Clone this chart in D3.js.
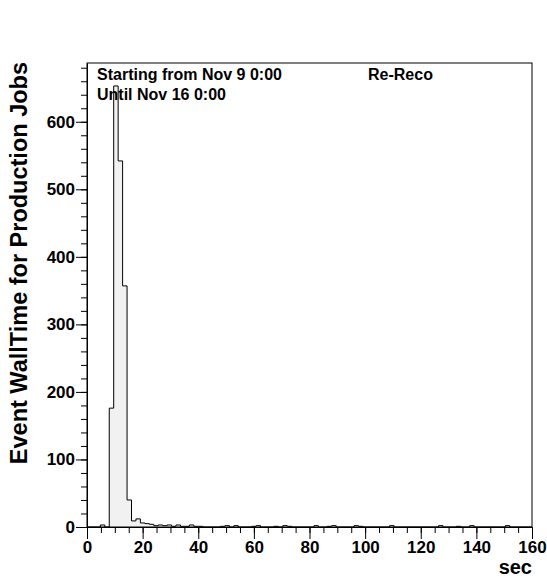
<!DOCTYPE html>
<html>
<head>
<meta charset="utf-8">
<style>
    body { margin: 0; background: #fff; }
    svg { display: block; font-family: "Liberation Sans", Arial, sans-serif; font-weight: bold; }
    .axis .domain { stroke: #000; }
    .axis line { stroke: #000; }
</style>
</head>
<body>
<svg width="547" height="579"></svg>
<script src="https://d3js.org/d3.v7.min.js"></script>
<script>
    // histogram: 100 bins from 0 to 160 sec (bin width 1.6)
    var binWidth = 1.6;
    var counts = [
        0, 0, 0, 3, 0, 176, 653, 542, 357, 40,
        9, 12, 6, 5, 4, 2, 3, 2, 3, 1,
        3, 1, 1, 3, 1, 1, 0, 0, 0, 0,
        1, 2, 0, 2, 0, 0, 0, 1, 2, 0,
        0, 0, 1, 0, 2, 1, 0, 0, 0, 0,
        0, 2, 0, 0, 1, 2, 0, 0, 0, 0,
        2, 1, 0, 0, 0, 0, 0, 0, 2, 0,
        0, 0, 0, 0, 0, 0, 0, 0, 0, 2,
        0, 0, 0, 1, 0, 0, 2, 0, 0, 0,
        0, 0, 0, 0, 2, 0, 0, 0, 0, 0
    ];
    var xMajor = [0, 20, 40, 60, 80, 100, 120, 140, 160];
    var yMajor = [0, 100, 200, 300, 400, 500, 600];

    var svg = d3.select("svg"),
        margin = {top: 63, right: 15, bottom: 52, left: 87},
        width = +svg.attr("width") - margin.left - margin.right,
        height = +svg.attr("height") - margin.top - margin.bottom,
        g = svg.append("g").attr("transform", "translate(" + margin.left + "," + margin.top + ")");

    var x = d3.scaleLinear().domain([0, 160]).range([0, width]);
    var y = d3.scaleLinear().domain([0, 687]).range([height, 0]);

    var pts = counts.map(function (c, i) { return {x0: i * binWidth, v: c}; });
    pts.push({x0: counts.length * binWidth, v: 0});

    var area = d3.area()
        .curve(d3.curveStepAfter)
        .x(function (d) { return x(d.x0); })
        .y0(y(0))
        .y1(function (d) { return y(d.v); });

    var line = d3.line()
        .curve(d3.curveStepAfter)
        .x(function (d) { return x(d.x0); })
        .y(function (d) { return y(d.v); });

    g.append("path")
        .datum(pts)
        .attr("d", area)
        .attr("fill", "#f1f1f1");

    g.append("path")
        .datum(pts)
        .attr("d", line)
        .attr("fill", "none")
        .attr("stroke", "#000")
        .attr("stroke-width", 1);

    // frame
    g.append("rect")
        .attr("x", 0).attr("y", 0)
        .attr("width", width).attr("height", height)
        .attr("fill", "none")
        .attr("stroke", "#000");

    // minor ticks
    g.append("g")
        .attr("class", "axis")
        .attr("transform", "translate(0," + height + ")")
        .call(d3.axisBottom(x).tickValues(d3.range(0, 161, 5)).tickSize(6).tickFormat(""))
        .select(".domain").remove();

    g.append("g")
        .attr("class", "axis")
        .call(d3.axisLeft(y).tickValues(d3.range(0, 687, 20)).tickSize(6).tickFormat(""))
        .select(".domain").remove();

    // major ticks + labels
    var xa = g.append("g")
        .attr("class", "axis")
        .attr("transform", "translate(0," + height + ")")
        .call(d3.axisBottom(x).tickValues(xMajor).tickSize(12).tickPadding(2).tickSizeOuter(0));
    xa.selectAll("text").attr("font-size", 17).attr("font-weight", "bold").attr("fill", "#000")
        .attr("font-family", "Liberation Sans, Arial, sans-serif");

    var ya = g.append("g")
        .attr("class", "axis")
        .call(d3.axisLeft(y).tickValues(yMajor).tickSize(11).tickPadding(1).tickSizeOuter(0));
    ya.selectAll("text").attr("font-size", 17).attr("font-weight", "bold").attr("fill", "#000")
        .attr("font-family", "Liberation Sans, Arial, sans-serif");

    // axis titles
    svg.append("text")
        .attr("x", margin.left + width)
        .attr("y", 574)
        .attr("text-anchor", "end")
        .attr("font-size", 20)
        .text("sec");

    svg.append("text")
        .attr("transform", "translate(27," + (margin.top - 1) + ") rotate(-90)")
        .attr("text-anchor", "end")
        .attr("font-size", 23.5)
        .text("Event WallTime for Production Jobs");

    // labels
    g.append("text").attr("x", 10).attr("y", 17).attr("font-size", 16)
        .text("Starting from Nov 9 0:00");
    g.append("text").attr("x", 10).attr("y", 37).attr("font-size", 16)
        .text("Until Nov 16 0:00");
    g.append("text").attr("x", 281).attr("y", 17).attr("font-size", 16)
        .text("Re-Reco");
</script>
</body>
</html>
